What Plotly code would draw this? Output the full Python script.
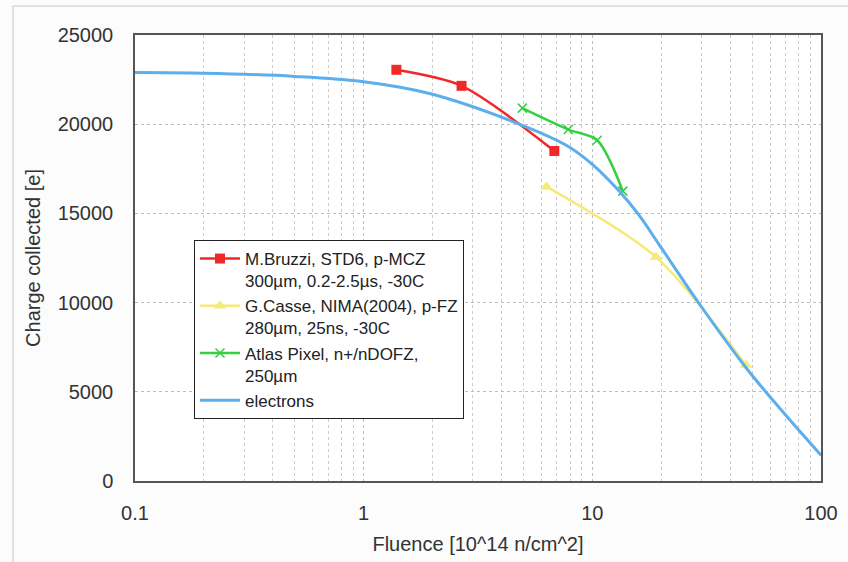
import plotly.graph_objects as go

# Data
bruzzi_x = [1.39, 2.68, 6.82]
bruzzi_y = [23050, 22150, 18500]

casse_x = [6.3, 19.0, 47.0]
casse_y = [16500, 12550, 6500]

atlas_x = [4.94, 7.85, 10.5, 13.6]
atlas_y = [20900, 19700, 19100, 16250]

elec_x = [0.1, 0.2, 0.5, 1, 1.94, 4.35, 7.69, 10, 13.1, 16, 19.6, 29.3, 47, 70, 100]
elec_y = [22900, 22860, 22680, 22380, 21720, 20220, 18820, 17750, 16250, 14900, 13250, 9950, 6350, 3700, 1450]

names = [
    "M.Bruzzi, STD6, p-MCZ<br>300µm, 0.2-2.5µs, -30C",
    "G.Casse, NIMA(2004), p-FZ<br>280µm, 25ns, -30C",
    "Atlas Pixel, n+/nDOFZ,<br>250µm",
    "electrons",
]

y_ticks = [0, 5000, 10000, 15000, 20000, 25000]
x_ticks = [0.1, 1, 10, 100]
x_tick_labels = ["0.1", "1", "10", "100"]

RED = "#F02828"
YEL = "#F5EA7A"
GRN = "#33D040"
BLU = "#5DAEEC"

fig = go.Figure()
fig.add_trace(go.Scatter(
    x=bruzzi_x, y=bruzzi_y, name=names[0], mode="lines+markers",
    line=dict(color=RED, width=2.5, shape="spline", smoothing=0.8),
    marker=dict(symbol="square", size=10, color=RED)))
fig.add_trace(go.Scatter(
    x=casse_x, y=casse_y, name=names[1], mode="lines+markers",
    line=dict(color=YEL, width=2.5, shape="spline", smoothing=0.8),
    marker=dict(symbol="triangle-up", size=11, color=YEL)))
fig.add_trace(go.Scatter(
    x=atlas_x, y=atlas_y, name=names[2], mode="lines+markers",
    line=dict(color=GRN, width=2.5, shape="spline", smoothing=0.8),
    marker=dict(symbol="x-thin", size=9, color=GRN, line=dict(color=GRN, width=1.5))))
fig.add_trace(go.Scatter(
    x=elec_x, y=elec_y, name=names[3], mode="lines",
    line=dict(color=BLU, width=3, shape="spline", smoothing=1.0)))

W, H = 848, 562
L, R, T, B = 135, 27, 35, 81

grid = dict(showgrid=True, gridcolor="#BDBDBD", griddash="dot", gridwidth=1)

fig.update_layout(
    width=W, height=H,
    margin=dict(l=L, r=R, t=T, b=B, autoexpand=False),
    paper_bgcolor="#FCFCFC",
    plot_bgcolor="#FFFFFF",
    font=dict(family="Liberation Sans, Arial, sans-serif", color="#333333", size=20),
    showlegend=True,
    legend=dict(
        x=(194 - L) / (W - L - R), y=(481 - 240) / (481 - 35),
        xanchor="left", yanchor="top", valign="top",
        bgcolor="#FFFFFF", bordercolor="#222222", borderwidth=1,
        font=dict(size=17, color="#222222"),
        tracegroupgap=2, itemwidth=40,
    ),
    xaxis=dict(
        type="log", range=[-1, 2], automargin=False,
        tickvals=x_ticks, ticktext=x_tick_labels,
        ticks="", ticklabelstandoff=13,
        showline=True, linecolor="#555555", linewidth=1.5, mirror=True,
        minor=dict(showgrid=True, gridcolor="#CCCCCC", griddash="dot", gridwidth=1,
                   dtick="D1", ticks=""),
        zeroline=False,
        title=dict(text="Fluence [10^14 n/cm^2]", font=dict(size=20), standoff=14),
        **grid,
    ),
    yaxis=dict(
        range=[0, 25000], tickvals=y_ticks, tickformat="d", automargin=False,
        ticks="", ticklabelstandoff=16,
        showline=True, linecolor="#555555", linewidth=1.5, mirror=True,
        zeroline=False,
        title=dict(text="Charge collected [e]", font=dict(size=20), standoff=12),
        **grid,
    ),
    shapes=[dict(type="rect", xref="paper", yref="paper",
                 x0=-(L - 13) / (W - L - R), x1=1 + (R + 20) / (W - L - R),
                 y0=-(B + 20) / (H - T - B), y1=1 + (T - 6) / (H - T - B),
                 line=dict(color="#D8D8D8", width=1.5), fillcolor="rgba(0,0,0,0)",
                 layer="below")],
)

fig.write_html("out.html")
